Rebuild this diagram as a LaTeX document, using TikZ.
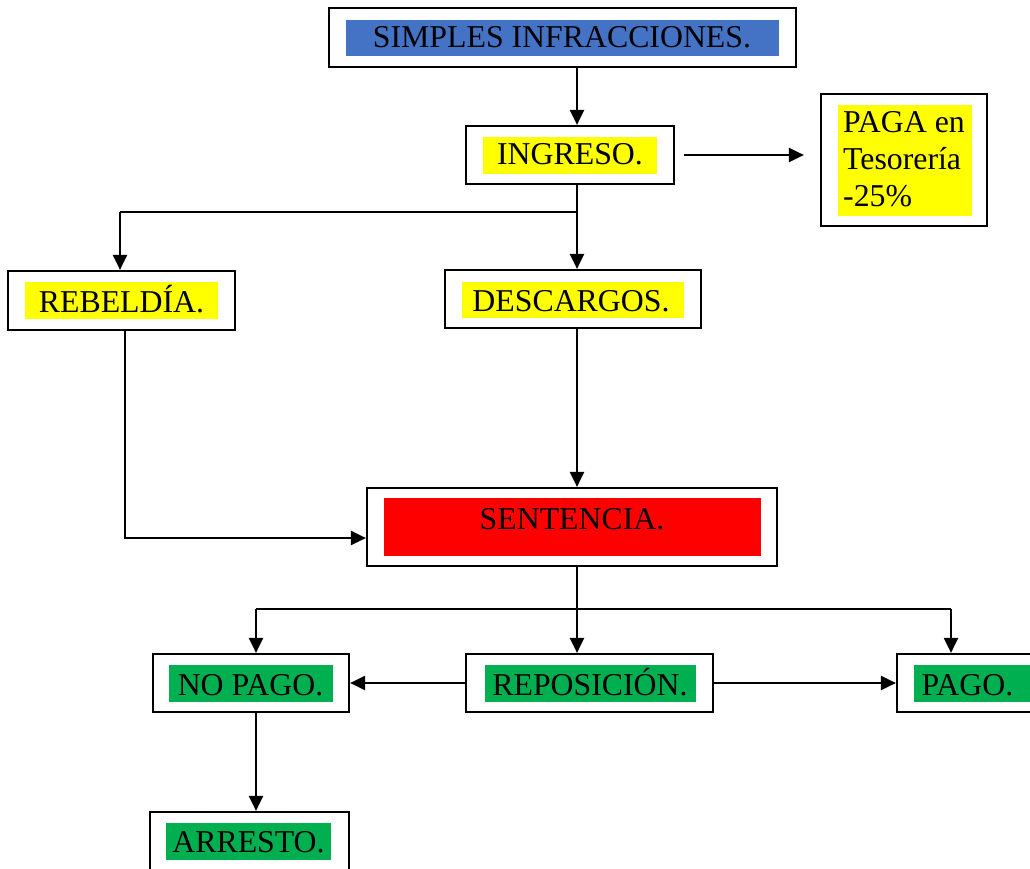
\documentclass[tikz,border=0pt]{standalone}
\usepackage{fontspec}
\setmainfont{Liberation Serif}
\usetikzlibrary{arrows.meta}
\definecolor{cblue}{HTML}{4472C4}
\definecolor{cyellow}{HTML}{FFFF00}
\definecolor{cred}{HTML}{FF0000}
\definecolor{cgreen}{HTML}{00B050}
\begin{document}
\begin{tikzpicture}[x=1pt,y=-1pt,
 box/.style={draw, line width=2.2pt, inner sep=0pt},
 lbl/.style={anchor=base, inner sep=0pt, font=\fontsize{31.8}{37}\selectfont},
 lbll/.style={anchor=base west, inner sep=0pt, font=\fontsize{31.8}{37}\selectfont},
 arw/.style={line width=2.2pt, -{Triangle[length=15pt,width=14pt]}},
 thinl/.style={line width=1.3pt}]
\useasboundingbox (0,0) rectangle (1030,869);
\clip (0,0) rectangle (1030,869);
\fill[white] (0,0) rectangle (1030,869);
% boxes
\node[box, minimum width=467pt, minimum height=59pt] (sim) at (562.5,37.5) {};
\node[box, minimum width=208pt, minimum height=58pt] (ing) at (570,155) {};
\node[box, minimum width=166pt, minimum height=132pt] (paga) at (904,160) {};
\node[box, minimum width=227pt, minimum height=59pt] (reb) at (121.5,300.5) {};
\node[box, minimum width=256pt, minimum height=58pt] (des) at (573,299) {};
\node[box, minimum width=410pt, minimum height=78pt] (sen) at (572,527) {};
\node[box, minimum width=196pt, minimum height=58pt] (nop) at (251,683) {};
\node[box, minimum width=247pt, minimum height=58pt] (rep) at (589.5,683) {};
\node[box, minimum width=150pt, minimum height=58pt] (pag) at (972,683) {};
\node[box, minimum width=199pt, minimum height=60pt] (arrest) at (249.5,842) {};
% colour fills
\fill[cblue] (346,20) rectangle (779,56);
\fill[cyellow] (483,137) rectangle (657,174);
\fill[cyellow] (838,105) rectangle (972,216);
\fill[cyellow] (25,282) rectangle (218,319);
\fill[cyellow] (462,282) rectangle (684,318);
\fill[cred] (384,498) rectangle (761,556);
\fill[cgreen] (169,665) rectangle (333,702);
\fill[cgreen] (485,665) rectangle (696,702);
\fill[cgreen] (914,665) rectangle (1031,702);
\fill[cgreen] (166,823) rectangle (331,860);
% texts
\node[lbl] (simT) at (562,48) {SIMPLES INFRACCIONES.};
\node[lbl] (ingT) at (570,165) {INGRESO.};
\node[lbll] (pagaT1) at (843,133) {PAGA en};
\node[lbll] (pagaT2) at (843,170) {Tesorería};
\node[lbll] (pagaT3) at (843,207) {-25\%};
\node[lbl] (rebT) at (121.5,312) {REBELDÍA.};
\node[lbl] (desT) at (571,311) {DESCARGOS.};
\node[lbl] (senT) at (572,529) {SENTENCIA.};
\node[lbl] (nopT) at (250.5,695) {NO PAGO.};
\node[lbl] (repT) at (590,695) {REPOSICIÓN.};
\node[lbl] (pagT) at (967.5,695) {PAGO.};
\node[lbl] (arrestT) at (248.5,852) {ARRESTO.};
% connectors
\coordinate (colA) at (577,212);
\coordinate (colB) at (120,212);
\coordinate (rebL) at (125,538);
\coordinate (colC) at (577,609);
\coordinate (colL) at (256,609);
\coordinate (colR) at (951,609);
\draw[arw] (sim.south -| colA) -- (ing.north -| colA);
\draw[arw] ([xshift=9pt]ing.east) -- ([xshift=-16pt]paga.west |- ing.east);
\draw[arw] (ing.south -| colA) -- (des.north -| colA);
\draw[thinl] (colA) -- (colB);
\draw[arw] (colB) -- (reb.north -| colB);
\draw[arw] (reb.south -| rebL) |- (sen.west |- rebL);
\draw[arw] (des.south -| colA) -- (sen.north -| colA);
\draw[thinl] (sen.south -| colC) -- (colC);
\draw[thinl] (colL) -- (colR);
\draw[arw] (colL) -- (nop.north -| colL);
\draw[arw] (colC) -- (rep.north -| colC);
\draw[arw] (colR) -- (pag.north -| colR);
\draw[arw] (rep.west) -- (nop.east);
\draw[arw] (rep.east) -- (pag.west);
\draw[arw] (nop.south -| colL) -- (arrest.north -| colL);
\end{tikzpicture}
\end{document}
